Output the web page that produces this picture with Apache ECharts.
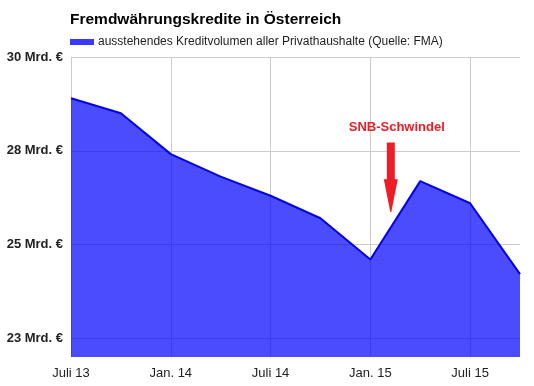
<!DOCTYPE html>
<html>
<head>
<meta charset="utf-8">
<script src="https://cdn.jsdelivr.net/npm/echarts@6/dist/echarts.min.js"></script>
<style>
html,body{margin:0;padding:0;background:#fff;}
#chart{width:534px;height:386px;}
</style>
</head>
<body>
<div id="chart"></div>
<script>
var categories = ['Juli 13','Okt. 13','Jan. 14','Apr. 14','Juli 14','Okt. 14','Jan. 15','Apr. 15','Juli 15','Okt. 15'];
var volumen = [28.90, 28.50, 27.41, 26.81, 26.30, 25.70, 24.60, 26.69, 26.10, 24.21];
var yTickValues = [22.5, 25, 27.5, 30];
var yTickLabels = ['23 Mrd. €', '25 Mrd. €', '28 Mrd. €', '30 Mrd. €'];
var seriesName = 'ausstehendes Kreditvolumen aller Privathaushalte (Quelle: FMA)';
var titleText = 'Fremdwährungskredite in Österreich';
var annotationText = 'SNB-Schwindel';

var FONT = '"Liberation Sans", Arial, sans-serif';
var chart = echarts.init(document.getElementById('chart'), null, {renderer: 'canvas'});

function yLabel(v) {
  for (var i = 0; i < yTickValues.length; i++) {
    if (Math.abs(yTickValues[i] - v) < 1e-6) return yTickLabels[i];
  }
  return '';
}

chart.setOption({
  animation: false,
  backgroundColor: '#ffffff',
  title: {
    text: titleText,
    left: 70,
    top: 12,
    padding: 0,
    textStyle: {fontFamily: FONT, fontSize: 15.5, fontWeight: 'bold', color: '#000'}
  },
  legend: {
    left: 70,
    top: 36,
    padding: 0,
    itemWidth: 24,
    itemHeight: 6,
    itemGap: 10,
    icon: 'rect',
    textStyle: {fontFamily: FONT, fontSize: 12, color: '#222', padding: [0,0,0,-1]},
    data: [{name: seriesName, itemStyle: {color: '#3838ff'}}]
  },
  grid: {left: 71, right: 14, top: 57, bottom: 29, containLabel: false},
  xAxis: {
    type: 'category',
    data: categories,
    boundaryGap: false,
    axisLine: {show: false},
    axisTick: {show: false},
    axisLabel: {interval: 1, margin: 10, fontFamily: FONT, fontSize: 13, color: '#222'},
    splitLine: {show: true, interval: 1, lineStyle: {color: '#cccccc', width: 1}}
  },
  yAxis: {
    type: 'value',
    min: 22,
    max: 30,
    axisLine: {show: false},
    axisTick: {show: false, customValues: yTickValues},
    axisLabel: {margin: 8, fontFamily: FONT, fontSize: 13, fontWeight: 'bold', color: '#222', formatter: yLabel, customValues: yTickValues},
    splitLine: {show: true, lineStyle: {color: '#cccccc', width: 1}}
  },
  series: [{
    name: seriesName,
    type: 'line',
    data: volumen,
    symbol: 'none',
    lineStyle: {color: '#0000f0', width: 2},
    itemStyle: {color: '#3838ff'},
    areaStyle: {color: '#0000ff', opacity: 0.7, origin: 'start'}
  }]
});

// annotation arrow (pointing to mid-January 2015 event)
var x6 = chart.convertToPixel({xAxisIndex: 0}, 6);
var x7 = chart.convertToPixel({xAxisIndex: 0}, 7);
var xA = x6 + (x7 - x6) * 0.41;
var yTop = chart.convertToPixel({yAxisIndex: 0}, 27.72);
var yMid = chart.convertToPixel({yAxisIndex: 0}, 26.74);
var yTip = chart.convertToPixel({yAxisIndex: 0}, 25.87);
chart.setOption({
  graphic: [
    {
      type: 'polygon',
      z: 100,
      shape: {points: [
        [xA - 4, yTop], [xA + 4, yTop], [xA + 4, yMid], [xA + 7, yMid],
        [xA + 0.5, yTip], [xA - 0.5, yTip], [xA - 7, yMid], [xA - 4, yMid]
      ]},
      style: {fill: '#ee1c25'}
    },
    {
      type: 'text',
      z: 100,
      x: xA + 6,
      y: chart.convertToPixel({yAxisIndex: 0}, 28.13),
      style: {
        text: annotationText,
        fill: '#ee1c25',
        font: 'bold 13px ' + FONT,
        align: 'center',
        verticalAlign: 'middle'
      }
    }
  ]
});
</script>
</body>
</html>
